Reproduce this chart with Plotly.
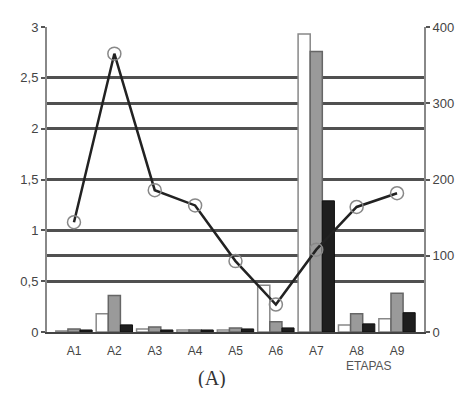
import plotly.graph_objects as go

categories = ["A1", "A2", "A3", "A4", "A5", "A6", "A7", "A8", "A9"]
bars_white = [0.01, 0.18, 0.03, 0.02, 0.02, 0.46, 2.93, 0.07, 0.13]
bars_grey = [0.03, 0.36, 0.05, 0.02, 0.04, 0.10, 2.76, 0.18, 0.38]
bars_black = [0.02, 0.07, 0.02, 0.02, 0.03, 0.04, 1.29, 0.08, 0.19]
line_values = [144, 365, 186, 166, 93, 36, 108, 164, 182]

left_ticks = [0, 0.5, 1, 1.5, 2, 2.5, 3]
left_labels = ["0", "0,5", "1", "1,5", "2", "2,5", "3"]
right_ticks = [0, 100, 200, 300, 400]

fig = go.Figure()
fig.add_trace(go.Bar(x=categories, y=bars_white, marker=dict(color="#ffffff", line=dict(color="#888888", width=1.5)), yaxis="y"))
fig.add_trace(go.Bar(x=categories, y=bars_grey, marker=dict(color="#9a9a9a", line=dict(color="#666666", width=1.5)), yaxis="y"))
fig.add_trace(go.Bar(x=categories, y=bars_black, marker=dict(color="#1e1e1e", line=dict(color="#111111", width=1)), yaxis="y"))
fig.add_trace(go.Scatter(x=categories, y=line_values, yaxis="y2", mode="lines+markers",
                         line=dict(color="#222222", width=2.5),
                         marker=dict(symbol="circle-open", size=13, color="#888888", line=dict(width=1.5))))

font = dict(family="Liberation Sans, Arial, sans-serif", size=12, color="#333333")
fig.update_layout(
    width=458, height=380,
    margin=dict(l=34, r=34, t=14, b=56),
    paper_bgcolor="white", plot_bgcolor="white",
    showlegend=False,
    barmode="group", bargap=0.1, bargroupgap=0.0,
    font=font,
    xaxis=dict(showgrid=False, showline=True, linecolor="#444444", linewidth=2,
               ticks="outside", ticklen=7, tickcolor="rgba(0,0,0,0)",
               tickfont=dict(size=12, color="#444444")),
    yaxis=dict(range=[0, 3], tickvals=left_ticks, ticktext=left_labels,
               showgrid=True, gridcolor="#505050", gridwidth=2.5,
               showline=True, linecolor="#888888", linewidth=2,
               ticks="outside", ticklen=4, tickcolor="#555555", tickwidth=2,
               zeroline=False, tickfont=dict(size=13, color="#444444")),
    yaxis2=dict(range=[0, 400], tickvals=right_ticks, overlaying="y", side="right",
                showgrid=True, gridcolor="#505050", gridwidth=2.5,
                showline=True, linecolor="#888888", linewidth=2,
                ticks="outside", ticklen=4, tickcolor="#555555", tickwidth=2,
                zeroline=False, tickfont=dict(size=13, color="#444444")),
    annotations=[
        dict(text="ETAPAS", x=(375 - 42) / 390, y=-(367 - 332) / 310, xref="paper", yref="paper",
             showarrow=False, xanchor="center", yanchor="middle", font=dict(size=12, color="#555555")),
        dict(text="(A)", x=(213 - 42) / 390, y=-(379 - 332) / 310, xref="paper", yref="paper",
             showarrow=False, xanchor="center", yanchor="middle",
             font=dict(family="Liberation Serif, serif", size=20, color="#333333")),
    ],
)
fig.write_html("out.html")
